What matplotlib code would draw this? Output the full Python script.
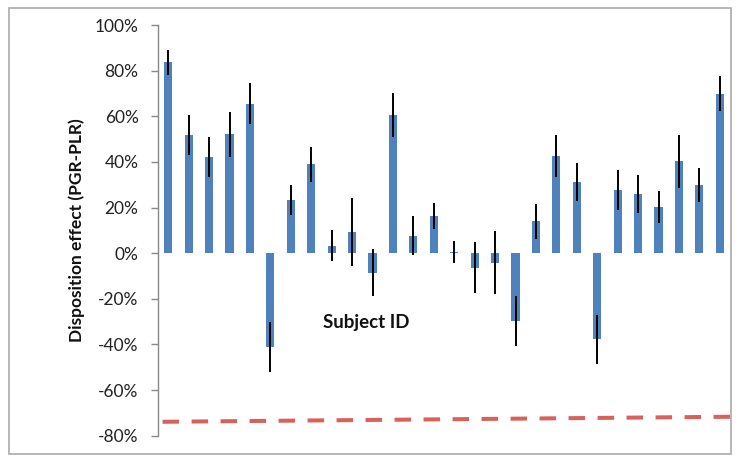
import matplotlib
matplotlib.use("Agg")
import matplotlib.pyplot as plt
import matplotlib.transforms as mtransforms
from matplotlib.patches import Rectangle
import numpy as np

plt.rcParams['font.family'] = ['Lato', 'DejaVu Sans']

subjects = list(range(1, 29))
effect = [83.6, 51.8, 42.2, 52.1, 65.5, -41.2, 23.2, 39.0, 3.2, 9.3,
          -8.5, 60.6, 7.6, 16.5, 0.6, -6.3, -4.1, -29.6, 13.9, 42.6,
          31.2, -37.7, 27.7, 26.0, 20.3, 40.3, 29.9, 69.9]
err = [5.5, 8.9, 8.8, 9.9, 9.1, 10.9, 6.5, 7.7, 6.8, 15.0,
       10.4, 9.7, 8.5, 5.7, 4.7, 11.2, 13.6, 10.9, 7.7, 9.0,
       8.4, 10.7, 8.9, 8.2, 6.9, 11.6, 7.5, 7.8]
trend_values = [-73.9, -71.7]
yticks = [-80, -60, -40, -20, 0, 20, 40, 60, 80, 100]
ytick_labels = [f"{t}%" for t in yticks]

W, H = 741, 465
fig = plt.figure(figsize=(W / 100, H / 100), dpi=100)
ax = fig.add_axes([158 / W, 1 - 435.7 / H, (730 - 158) / W, (435.7 - 25) / H])

x = np.arange(len(subjects))
ax.bar(x, effect, width=0.4, color='#4F81BD', zorder=2)
ax.errorbar(x, effect, yerr=err, fmt='none', ecolor='black', elinewidth=1.4,
            capsize=0, zorder=3)

trans = mtransforms.blended_transform_factory(ax.transAxes, ax.transData)
ax.plot([0.008, 1.0], trend_values, transform=trans, color='#D8615B',
        linewidth=2.9, dashes=(4.1, 3.1), solid_capstyle='butt', zorder=4,
        clip_on=False)

ax.set_xlim(-0.5, len(subjects) - 0.5)
ax.set_ylim(-80, 100)
ax.set_yticks(yticks)
ax.set_yticklabels(ytick_labels, fontsize=12.5, color='#222222')
ax.set_xticks([])
for s in ['top', 'right', 'bottom']:
    ax.spines[s].set_visible(False)
ax.spines['left'].set_color('#888888')
ax.spines['left'].set_linewidth(1.0)
ax.tick_params(axis='y', length=5, width=1.0, color='#888888', pad=9)

ax.set_ylabel('Disposition effect (PGR-PLR)', fontsize=12.5, fontweight='bold',
              labelpad=7, color='#111111')
ax.text(0.364, 0.275, 'Subject ID', transform=ax.transAxes, fontsize=13.5,
        fontweight='bold', ha='center', va='center', color='#111111')

fig.patches.append(Rectangle((9 / W, 1 - 454 / H), (731 - 9) / W, (454 - 8) / H,
                             transform=fig.transFigure, fill=False,
                             edgecolor='#AAAAAA', linewidth=1.2))

fig.savefig('out.png', dpi=100)
